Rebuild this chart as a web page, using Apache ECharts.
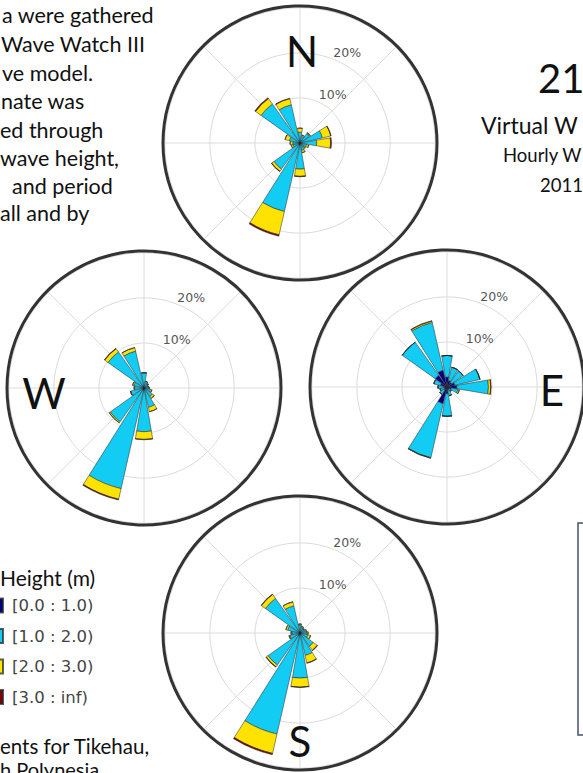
<!DOCTYPE html>
<html><head><meta charset="utf-8">
<script src="https://cdn.jsdelivr.net/npm/echarts@6.0.0/dist/echarts.min.js"></script>
<style>html,body{margin:0;padding:0;background:#fff;overflow:hidden}#c{width:583px;height:773px}</style>
</head><body><div id="c"></div>
<script>
// ---- data ----
const DIRS = ['N','NNE','NE','ENE','E','ESE','SE','SSE','S','SSW','SW','WSW','W','WNW','NW','NNW'];
const BINS = ['[0.0 : 1.0)','[1.0 : 2.0)','[2.0 : 3.0)','[3.0 : inf)'];
const RING_LABELS = ['10%','20%'];

// North rose (% of time per direction, by height bin)
const northH01 = [0.4,0.3,0.4,0.4,0.4,0.3,0.3,0.3,0.4,0.5,0.4,0.3,0.3,0.3,0.4,0.4];
const northH12 = [2.0,1.2,2.2,4.7,3.3,1.2,0.9,1.4,5.4,15.1,6.7,1.3,1.3,2.1,10.2,8.3];
const northH23 = [0.9,0.3,0.2,1.9,3.1,0.5,0.3,0.5,1.6,5.3,0.6,0.4,0.6,1.0,1.5,1.4];
const northH3p = [0,0,0,0.1,0.2,0,0,0,0.1,0.3,0.1,0,0,0,0.2,0.1];
// West rose
const westH01 = [0.4,0.3,0.3,0.3,0.3,0.3,0.3,0.4,0.5,0.6,0.5,0.4,0.3,0.3,0.5,0.5];
const westH12 = [3.0,1.2,0.9,0.7,0.8,1.2,2.0,4.0,9.2,22.3,8.7,2.6,1.8,2.0,9.3,7.9];
const westH23 = [0,0,0,0,0.1,0.3,0.5,1.0,1.7,2.4,0.3,0.1,0.1,0.3,0.9,0.8];
const westH3p = [0,0,0,0,0,0,0,0,0.1,0.2,0,0,0,0,0.1,0];
// East rose
const eastH01 = [2.2,1.5,1.3,1.8,2.2,1.0,0.6,0.8,1.5,3.8,0.8,0.6,0.8,1.5,3.2,3.8];
const eastH12 = [4.8,3.0,3.1,5.7,7.0,1.5,0.6,1.2,5.0,12.3,1.2,1.0,1.2,1.5,9.0,10.9];
const eastH23 = [0,0,0,0,0.5,0.3,0,0,0,0.1,0,0,0,0,0,0.3];
const eastH3p = [0,0,0,0,0.1,0,0,0,0,0,0,0,0,0,0,0.1];
// South rose
const southH01 = [0.3,0.3,0.3,0.3,0.3,0.3,0.4,0.4,0.5,0.6,0.5,0.3,0.3,0.3,0.5,0.4];
const southH12 = [1.5,1.0,0.8,1.0,1.2,1.5,3.2,4.7,9.5,22.4,8.2,2.0,1.5,2.5,8.9,5.8];
const southH23 = [0.2,0.2,0.1,0.2,0.3,0.6,1.1,1.7,2.0,4.4,0.5,0.2,0.2,0.4,1.1,0.9];
const southH3p = [0,0,0,0,0,0,0.1,0.1,0.1,0.3,0.1,0,0,0,0.1,0];

// ---- layout ----
const ROSES = [
  {key:'N', center:[300,143], bins:[northH01,northH12,northH23,northH3p]},
  {key:'W', center:[144,388], bins:[westH01,westH12,westH23,westH3p]},
  {key:'E', center:[447,387], bins:[eastH01,eastH12,eastH23,eastH3p]},
  {key:'S', center:[300,633], bins:[southH01,southH12,southH23,southH3p]}
];
const COLORS = ['#000080','#12CCF4','#FFE300','#800000'];
const R_PX = 137, R_MAX = 30.4;

const polar = [], angleAxis = [], radiusAxis = [], series = [];
ROSES.forEach((r, k) => {
  // grid polar
  polar.push({center:r.center, radius:R_PX});
  angleAxis.push({polarIndex:2*k, type:'value', min:0, max:360, interval:45, startAngle:90, clockwise:true,
    axisLine:{show:true, lineStyle:{color:'#333', width:3}}, axisTick:{show:false}, axisLabel:{show:false},
    splitLine:{show:true, lineStyle:{color:'#dcdcdc', width:1}}});
  radiusAxis.push({polarIndex:2*k, type:'value', min:0, max:R_MAX, interval:10,
    axisLine:{show:false}, axisTick:{show:false}, axisLabel:{show:false},
    splitLine:{show:true, lineStyle:{color:'#dcdcdc', width:1}}});
  // bar polar
  polar.push({center:r.center, radius:R_PX});
  angleAxis.push({polarIndex:2*k+1, type:'category', data:DIRS, startAngle:90+11.25, clockwise:true,
    axisLine:{show:false}, axisTick:{show:false}, axisLabel:{show:false}, splitLine:{show:false}});
  radiusAxis.push({polarIndex:2*k+1, type:'value', min:0, max:R_MAX,
    axisLine:{show:false}, axisTick:{show:false}, axisLabel:{show:false}, splitLine:{show:false}});
  r.bins.forEach((d, b) => {
    series.push({type:'bar', name:BINS[b], coordinateSystem:'polar', polarIndex:2*k+1, stack:'rose'+k,
      data:d, barCategoryGap:'14%',
      itemStyle:{color:COLORS[b], borderColor:'rgba(40,40,40,0.75)', borderWidth:0.7}});
  });
});

const FONT = 'Lato, "Open Sans", sans-serif';
const txt = (text, x, y, size, opts={}) => ({type:'text', z:10, silent:true,
  style:{text, x, y, font:`normal ${size}px ${opts.family||FONT}`,
    fill:opts.fill||'#111', textAlign:opts.align||'left', verticalAlign:'middle'}});

const graphic = [
  txt('a were gathered', 2, 15, 21.5),
  txt('Wave Watch III', 1, 44, 21.5),
  txt('ve model.', 2, 73, 21.5),
  txt('nate was', 1, 101, 21.5),
  txt('ed through', 0, 130, 21.5),
  txt('wave height,', 0, 158, 21.5),
  txt('and period', 12, 186, 21.5),
  txt('all and by', 0, 213, 21.5),
  txt('21', 538, 78, 40),
  txt('Virtual W', 481, 125, 23),
  txt('Hourly W', 503, 155, 18.5),
  txt('2011', 540, 185, 18.5),
  txt('Height (m)', 0, 577, 21),
  txt('ents for Tikehau,', 0, 746, 20.5),
  txt('h Polynesia', 0, 769, 20),
  txt('N', 302, 51, 42, {align:'center'}),
  txt('W', 44, 393, 42, {align:'center'}),
  txt('E', 552, 390, 42, {align:'center'}),
  txt('S', 300, 741, 42, {align:'center'}),
  {type:'rect', shape:{x:578, y:523, width:40, height:212}, style:{fill:'none', stroke:'#44546A', lineWidth:1.5}}
];

const chart = echarts.init(document.getElementById('c'), null, {renderer:'svg'});
chart.setOption({
  animation:false,
  backgroundColor:'#fff',
  polar, angleAxis, radiusAxis, series,
  legend:{orient:'vertical', left:-12, top:597, padding:0, itemWidth:14, itemHeight:14, itemGap:13.5, icon:'rect',
    data:BINS, selectedMode:false,
    textStyle:{fontSize:16.5, lineHeight:16, color:'#444', fontFamily:'DejaVu Sans', padding:[0,0,0,4]}},
  graphic
});

// ring labels placed through the grid polar coordinate system
const ringPos = [[13, 34], [22.7, 27.5]];
const extra = [];
ROSES.forEach((r, k) => {
  ringPos.forEach((p, i) => {
    const pt = chart.convertToPixel({polarIndex:2*k}, p);
    extra.push(txt(RING_LABELS[i], pt[0], pt[1], 12.5, {align:'center', fill:'#555', family:'"DejaVu Sans"'}));
  });
});
chart.setOption({graphic: graphic.concat(extra)});
</script></body></html>
